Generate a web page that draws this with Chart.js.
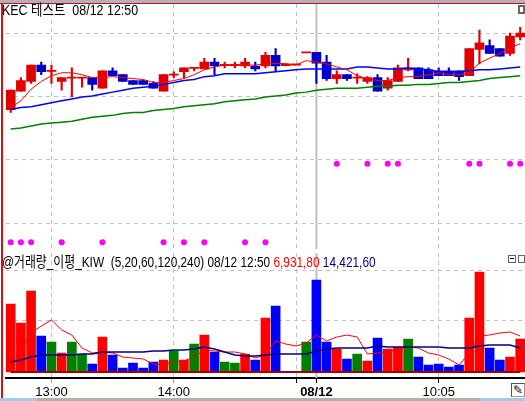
<!DOCTYPE html>
<html>
<head>
<meta charset="utf-8">
<style>
html,body{margin:0;padding:0;background:#fff;overflow:hidden;width:525px;height:401px}
canvas{position:absolute;left:0;top:0}
#priceWrap,#volWrap{position:absolute;left:0;width:531px}
#priceWrap{top:0;height:253px}
#volWrap{top:253px;height:145px}
.t{position:absolute;white-space:pre;font-family:"Liberation Sans","Noto Sans CJK KR",sans-serif;font-size:15px;line-height:16px;color:#000;transform-origin:left top}
.box{position:absolute;box-sizing:border-box;background:#fff}
</style>
</head>
<body>
<div id="priceWrap"><canvas id="priceChart" width="531" height="253"></canvas></div>
<div id="volWrap"><canvas id="volChart" width="531" height="145"></canvas></div>

<div class="box" style="left:0;top:0;width:525px;height:3px;background:#a9b4c0"></div>
<div class="box" style="left:0;top:3px;width:525px;height:1px;background:#e00000"></div>
<div class="box" style="left:1px;top:3px;width:2px;height:395px;background:#d81010"></div>
<div class="box" style="left:0;top:398px;width:525px;height:3px;background:#b4b0a4"></div>
<div class="box" style="left:0;top:398px;width:37px;height:3px;background:#a8c8e8"></div>
<div class="box" style="left:480px;top:398px;width:45px;height:3px;background:#a8c8e8"></div>

<div class="t" style="left:2px;top:2px;transform:scaleX(.83)">KEC 테스트  08/12 12:50</div>
<div class="t" style="left:2px;top:254px;transform:scaleX(.79)">@거래량_이평_KIW  (5,20,60,120,240) 08/12 12:50 <span style="color:#f00">6,931,80</span> <span style="color:#000080">14,421,60</span></div>

<div class="box" style="left:518px;top:5px;width:7px;height:9px;border:2px solid #666"></div>
<div class="box" style="left:508px;top:255px;width:8px;height:8px;border:1px solid #666"></div>
<div class="box" style="left:510px;top:258px;width:4px;height:1px;background:#000"></div>
<div class="box" style="left:518px;top:255px;width:7px;height:8px;border:1px solid #666"></div>
<div class="box" style="left:511px;top:383px;width:14px;height:14px;border:1px solid #555;border-right-color:#999;border-bottom-color:#999"></div>
<div class="t" style="left:513px;top:382px;font-family:'DejaVu Sans';font-size:12px">✎</div>

<script src="https://cdn.jsdelivr.net/npm/chart.js@4"></script>
<script>
// 5 minute bars, session break after 15:00
const times = ['12:40','12:45','12:50','12:55','13:00','13:05','13:10','13:15','13:20','13:25','13:30','13:35','13:40','13:45','13:50','13:55','14:00','14:05','14:10','14:15','14:20','14:25','14:30','14:35','14:40','14:45','14:50','14:55','15:00','09:00','09:05','09:10','09:15','09:20','09:25','09:30','09:35','09:40','09:45','09:50','09:55','10:00','10:05','10:10','10:15','10:20','10:25','10:30','10:35','10:40','10:45'];
const tickLabels = {'13:00':'13:00','14:00':'14:00','15:00':'','09:05':'08/12','10:05':'10:05'};

// candles
const open  = [144,163,173,190,184,173,177,177,177,166,184,180,174,174,171,163,180,183,187,186,193,190,190,189,189,189,200,190,190.5,203,203,193,176,180,177,173,177,166,173,185,187,185,184,184,184,179,206,210,207,202,219];
const high  = [164,177,190,193,190,177,187,177,177,184,187,180,174,174,173,180,183,187,187,197,197,193,193,197,193,203,207,190,190.5,203,203,200,184,180,181,178,180,177,190,197,187,187,187,187,184,207,226,216,207,223,229];
const low   = [141,163,171,180,171,164,157,167,164,166,179,173,170,170,166,163,177,177,184,186,180,187,187,187,184,187,184,190,190.5,203,171,174,171,174,171,171,163,164,173,184,176,176,179,179,174,179,191,202,199,200,216];
const close = [164,174,190,183,184,177,177,177,170,184,179,173,170,170,166,180,180,187,187,193,189,190,190,193,186,200,189,190,190.5,203,192,176,180,176,177,177,163,174,187,187,176,176,179,179,178,207,213,202,199,220,223];

// moving averages on price
const ma5  = [146,153,165,173,179,182,182,180,177,177,178,177,176,175,172,172,174,176,180,185,188,190,190,190,190,191,191.5,191.5,190,194.5,193,191,188,185,179,176,174,174,177,178,178,180,182,180,180,182,192,197,202,208,212];
const ma20 = [144,146,147,149,151,153,155,157,158,160,162,164,166,167,168,170,172,174,175,178,179,181,181,181,181,182,183,184,185,186,186,186,186,186,188,188,187,186,186,187,186,185,183,183,183,184,185,185,186,187,188];
const ma60 = [124,125,127,129,130,131,132,134,136,137,138,140,141,141,143,144,145,147,148,149,150,152,153,154,155,157,158,159,161,162,164,165,166,166,166,167,168,168,169,169,170,170,171,172,172,173,174,176,177,178,179];

// signal markers, index of the bar and level
const signalLowIdx = [0,1,2,5,9,15,17,19,23,25];
const signalLowLevel = 7;
const signalHighIdx = [32,35,37,38,45,46,49,50];
const signalHighLevel = 88;

// volume
const volume = [68,49,81,36,30,19,30,18,8,35,17,4,9,4,10,12,21,12,28,37,20,10,9,18,12,54,66,0,0,30,92,30,23,13,18,11,34,23,25,33,15,7,8,5,7,54,100,24,12,15,33];
const volDir = ['r','r','r','b','g','r','g','g','b','r','b','b','b','b','b','r','g','r','g','r','b','g','g','r','b','r','b','g','g','g','b','b','r','b','g','r','b','r','r','g','b','b','b','b','b','r','r','b','b','r','r'];
const volMa5  = [7,22,39,46,52,42,37,24,19,20,19,15,14,13,8,7,10,11,15,22,21,20,20,18,14,17,31,28,26,29,37,31,35,37,35,18,19,20,23,25,24,19,17,13,7,19,36,37,39,40,36];
const volMa20 = [10,12,15,17,17,17,17,18,18,20,20,20,20,20,21,21,22,22,23,25,23,20,17,16,16,17,18,18,18,18,21,23,24,24,24,24,26,25,25,25,25,25,25,24,24,24,26,27,27,27,24];

const priceGrid = [26,92,157,223];
const volGrid = [52,102];

const candleRed = '#e00000', candleBlue = '#0000cc';
const volColors = {r:'#ff0000', b:'#0000ff', g:'#008000'};
const gridGray = '#c0c0c0';

// candle bodies and wicks are floating bars
const bodies = open.map((o,i) => o === close[i] ? [o-0.6,o+0.6] : [o,close[i]]);
const wicks = low.map((l,i) => [l,high[i]]);
const candleColors = open.map((o,i) => close[i] >= o ? candleRed : candleBlue);

function markers(idx, level) {
  return times.map((t,i) => idx.includes(i) ? level : null);
}
function isTick(i) {
  return tickLabels[times[i]] !== undefined;
}
function lineSet(data, color, width) {
  return {type:'line', data:data, borderColor:color, borderWidth:width, pointRadius:0, tension:0, fill:false};
}

// the solid gray line on the latest selected bar
const crossLine = {
  id:'crossLine',
  beforeDatasetsDraw(chart) {
    const x = chart.scales.x.getPixelForValue(30);
    const a = chart.chartArea, c = chart.ctx;
    c.save();
    c.strokeStyle = gridGray;
    c.lineWidth = 2;
    c.beginPath();
    c.moveTo(x,a.top);
    c.lineTo(x,a.bottom);
    c.stroke();
    c.restore();
  }
};

function xGrid(showLabels) {
  return {
    offset:true,
    grid:{
      offset:false,
      drawTicks:showLabels,
      tickLength:5,
      color:ctx => (isTick(ctx.index) && ctx.index !== 30) ? gridGray : 'rgba(0,0,0,0)',
      tickColor:ctx => isTick(ctx.index) ? (ctx.index < 20 ? '#999' : '#000') : 'rgba(0,0,0,0)'
    },
    border:{display:showLabels, color:'#000', width:2, dash:[4,4]},
    ticks:{
      display:showLabels,
      autoSkip:false,
      maxRotation:0,
      padding:2,
      color:'#000',
      font:ctx => ({family:'"Liberation Sans"', size:13, weight:ctx.index === 30 ? 'bold' : 'normal'}),
      callback:function(v,i){ return tickLabels[times[i]] || ''; }
    }
  };
}
function yGrid(min, max, lines) {
  return {
    min:min, max:max,
    afterBuildTicks:s => { s.ticks = lines.map(v => ({value:v})); },
    grid:{color:gridGray, drawTicks:false},
    border:{display:false, dash:[4,4]},
    ticks:{display:false}
  };
}

Chart.defaults.animation = false;

new Chart('priceChart', {
  type:'bar',
  data:{
    labels:times,
    datasets:[
      {type:'line', data:markers(signalHighIdx,signalHighLevel), showLine:false, pointRadius:3, pointBackgroundColor:'#ff00ff', pointBorderWidth:0},
      {type:'line', data:markers(signalLowIdx,signalLowLevel), showLine:false, pointRadius:3, pointBackgroundColor:'#ff00ff', pointBorderWidth:0},
      lineSet(ma5,'#ff0000',1),
      lineSet(ma20,'#0000ff',1.5),
      lineSet(ma60,'#008000',1.5),
      {data:bodies, backgroundColor:candleColors, barThickness:9, grouped:false},
      {data:wicks, backgroundColor:candleColors, barThickness:1.5, grouped:false}
    ]
  },
  options:{
    responsive:false,
    layout:{padding:{left:5.6, right:5.7, top:0, bottom:0}},
    plugins:{legend:{display:false}, tooltip:{enabled:false}},
    scales:{x:xGrid(false), y:yGrid(0,253,priceGrid)}
  },
  plugins:[crossLine]
});

new Chart('volChart', {
  type:'bar',
  data:{
    labels:times,
    datasets:[
      lineSet(volMa20,'#000080',1.5),
      lineSet(volMa5,'#ff0000',1),
      lineSet(times.map(() => 0),'#a00000',2),
      {data:volume, backgroundColor:volDir.map(d => volColors[d]), barThickness:9, grouped:false}
    ]
  },
  options:{
    responsive:false,
    layout:{padding:{left:5.6, right:5.7, top:0, bottom:0}},
    plugins:{legend:{display:false}, tooltip:{enabled:false}},
    scales:{
      x:Object.assign(xGrid(true), {afterFit:s => { s.height = 20; }}),
      y:yGrid(-6,119,volGrid)
    }
  },
  plugins:[crossLine]
});
</script>
</body>
</html>
